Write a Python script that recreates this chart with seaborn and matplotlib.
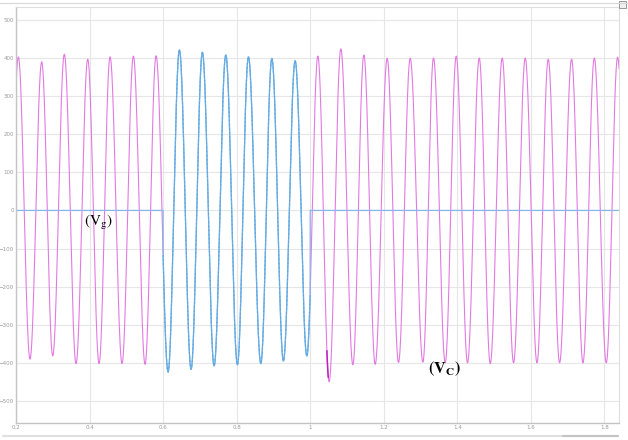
import numpy as np
import pandas as pd
import matplotlib
matplotlib.use("Agg")
import matplotlib.pyplot as plt
from matplotlib.lines import Line2D
from matplotlib.patches import Rectangle
import seaborn as sns

# ---- values ----
peak_t = [0.2063, 0.2699, 0.3314, 0.3951, 0.4558, 0.5192, 0.5810, 0.6444, 0.7069,
          0.7706, 0.8321, 0.8958, 0.9592, 1.0210, 1.0835, 1.1461, 1.2095, 1.2721,
          1.3355, 1.3973, 1.4599, 1.5224, 1.5850, 1.6476, 1.7110, 1.7728, 1.8362]
peak_v = [403, 390, 410, 397, 403, 405, 406, 421, 415,
          408, 403, 399, 393, 405, 424, 408, 399, 399,
          400, 405, 400, 400, 400, 397, 397, 400, 402]
trough_t = [0.2381, 0.2999, 0.3633, 0.4259, 0.4884, 0.5510, 0.6136, 0.6762, 0.7388,
            0.8022, 0.8659, 0.9273, 0.9910, 1.0517, 1.1162, 1.1769, 1.2403,
            1.3067, 1.3673, 1.4280, 1.4898, 1.5532, 1.6169, 1.6784, 1.7420, 1.8054]
trough_v = [-390, -382, -402, -402, -402, -404, -424, -417, -408,
            -405, -402, -395, -382, -450, -405, -404, -399,
            -398, -400, -400, -402, -400, -400, -400, -400, -400]
edge_t = [0.1750, 1.8675]
edge_v = [-400, -400]
vg_start, vg_end = 0.6, 1.0
x_ticks = [0.2, 0.4, 0.6, 0.8, 1.0, 1.2, 1.4, 1.6, 1.8]
x_labels = ["0.2", "0.4", "0.6", "0.8", "1", "1.2", "1.4", "1.6", "1.8"]
y_ticks = [-500, -400, -300, -200, -100, 0, 100, 200, 300, 400, 500]

# ---- build the waveform through the read extrema ----
ext_t = np.array(peak_t + trough_t + edge_t)
ext_v = np.array(peak_v + trough_v + edge_v, dtype=float)
order = np.argsort(ext_t)
ext_t, ext_v = ext_t[order], ext_v[order]

t = np.linspace(0.19, 1.85, 14000)
idx = np.clip(np.searchsorted(ext_t, t, side="right") - 1, 0, len(ext_t) - 2)
t0, t1 = ext_t[idx], ext_t[idx + 1]
v0, v1 = ext_v[idx], ext_v[idx + 1]
s = (t - t0) / (t1 - t0)
wave = (v0 + v1) / 2 + (v0 - v1) / 2 * np.cos(np.pi * s)

on = (t >= vg_start) & (t <= vg_end)
vg = np.where(on, wave, 0.0)

seg = np.where(t < vg_start, "a", np.where(t > vg_end, "b", "m"))
df = pd.DataFrame({"t": t, "vc": wave, "vg": vg, "seg": seg})
vc_out = df[df.seg != "m"]
vc_mid = df[df.seg == "m"]
trans = df[(df.t >= 1.0455) & (df.t <= 1.0495)]

# ---- figure ----
sns.set_style("white")
plt.rcParams["mathtext.fontset"] = "stix"
fig = plt.figure(figsize=(6.28, 4.40), dpi=100)
ax = fig.add_axes([16 / 628, 1 - 423 / 440, (619 - 16) / 628, (423 - 7) / 440])

sns.lineplot(data=vc_out, x="t", y="vc", units="seg", estimator=None, sort=False,
             color="#e27ae2", lw=0.8, ax=ax)
sns.lineplot(data=df, x="t", y="vg", estimator=None, sort=False,
             color="#86b6ea", lw=0.9, ax=ax)
sns.lineplot(data=vc_mid, x="t", y="vc", estimator=None, sort=False,
             color="#62b8e8", lw=0.9, ax=ax)
sns.lineplot(data=vc_mid, x="t", y="vc", estimator=None, sort=False,
             color="#7f86cc", lw=0.6, ls=(0, (1.5, 3.5)), ax=ax)
sns.lineplot(data=trans, x="t", y="vc", estimator=None, sort=False,
             color="#c21fc2", lw=1.1, ax=ax)

ax.set_xlim(0.2, 1.84)
ax.set_ylim(-558, 534)
ax.set_xticks(x_ticks)
ax.set_xticklabels(x_labels)
ax.set_yticks(y_ticks)
ax.set_xlabel("")
ax.set_ylabel("")
ax.grid(True, color="#e6e6e6", lw=0.8)
ax.set_axisbelow(True)
ax.tick_params(axis="both", labelsize=4, labelcolor="#9a9a9a", length=0, pad=1.5)
for side in ["top", "right"]:
    ax.spines[side].set_color("#dedede")
    ax.spines[side].set_linewidth(0.8)
for side in ["left", "bottom"]:
    ax.spines[side].set_color("#c4c4c4")
    ax.spines[side].set_linewidth(1.0)

ax.text(0.423, -32, r"$\mathrm{(V_{g})}$", fontsize=11, color="black",
        ha="center", va="center")
ax.text(1.3646, -416, r"$\mathbf{(V_{C})}$", fontsize=11.5, color="black",
        ha="center", va="center")

# screenshot frame elements
fig.add_artist(Line2D([0, 1], [1 - 3 / 440, 1 - 3 / 440], color="#d8d8d8", lw=0.8))
fig.add_artist(Line2D([0.005, 618 / 628], [1 - 436 / 440, 1 - 436 / 440],
                      color="#e0e0e0", lw=1.5))
fig.add_artist(Line2D([563 / 628, 618 / 628], [1 - 436 / 440, 1 - 436 / 440],
                      color="#c4c4c4", lw=1.5))
fig.add_artist(Rectangle((619 / 628, 1 - 8 / 440), 7 / 628, 7 / 440,
                         transform=fig.transFigure, fill=True, fc="#f0f0f0",
                         ec="#888888", lw=0.6))

fig.savefig("out.png", dpi=100)
